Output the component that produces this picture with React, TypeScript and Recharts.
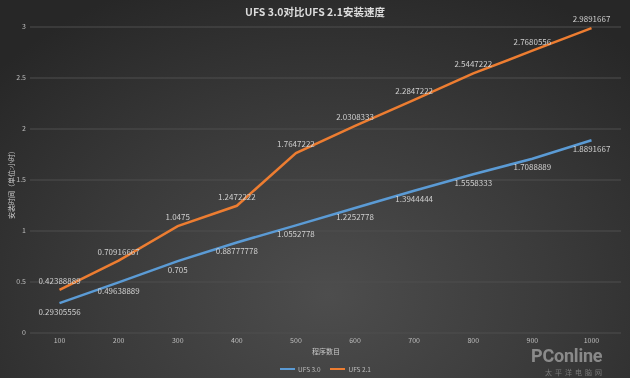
import React from 'react';
import { LineChart, Line, XAxis, YAxis, CartesianGrid, LabelList } from 'recharts';

const categories = ['100', '200', '300', '400', '500', '600', '700', '800', '900', '1000'];
const ufs30 = [0.29305556, 0.49638889, 0.705, 0.88777778, 1.0552778, 1.2252778, 1.3944444, 1.5558333, 1.7088889, 1.8891667];
const ufs21 = [0.42388889, 0.70916667, 1.0475, 1.2472222, 1.7647222, 2.0308333, 2.2847222, 2.5447222, 2.7680556, 2.9891667];
const yTicks = [0, 0.5, 1, 1.5, 2, 2.5, 3];
const seriesNames = ['UFS 3.0', 'UFS 2.1'];
const title = 'UFS 3.0对比UFS 2.1安装速度';
const yTitle = '安装时间（单位:小时）';
const xTitle = '程序数目';

const data = categories.map((c, i) => ({ name: c, a: ufs30[i], b: ufs21[i] }));

const BLUE = '#5B9BD5';
const ORANGE = '#ED7D31';
const FONT = '"Noto Sans CJK SC", "Noto Sans", sans-serif';

export default function App() {
  return (
    <div
      style={{
        position: 'fixed',
        left: 0,
        top: 0,
        width: 630,
        height: 378,
        background: 'radial-gradient(ellipse 70% 90% at 52% 78%, #4d4d4d 0%, #3b3b3b 50%, #272727 100%)',
        fontFamily: FONT,
        overflow: 'hidden',
      }}
    >
      <div
        style={{
          position: 'absolute',
          left: 0,
          top: 4,
          width: 630,
          textAlign: 'center',
          color: '#dcdcdc',
          fontWeight: 'bold',
          fontSize: 10.5,
          fontFamily: FONT,
        }}
      >
        {title}
      </div>
      <div style={{ position: 'absolute', left: 531, top: 349, color: 'rgba(205,205,205,0.55)', fontSize: 18, fontFamily: 'Roboto, sans-serif', fontWeight: 'bold', lineHeight: '13px', letterSpacing: -0.2 }}>
        PConline
      </div>
      <div style={{ position: 'absolute', left: 545, top: 368, color: 'rgba(200,200,200,0.45)', fontSize: 7, lineHeight: '8px', letterSpacing: 3 }}>
        太平洋电脑网
      </div>
      <div style={{ position: 'absolute', left: 0, top: 0 }}>
        <LineChart width={630} height={378} data={data} margin={{ top: 27, right: 9, bottom: 25, left: 0 }}>
          <CartesianGrid vertical={false} stroke="#4e4e4e" strokeWidth={1} />
          <XAxis
            dataKey="name"
            padding={{ left: 29.5, right: 29.5 }}
            axisLine={false}
            tickLine={false}
            tick={{ fill: '#bdbdbd', fontSize: 7, fontFamily: FONT }}
            tickSize={0}
            tickMargin={5}
            height={20}
            interval={0}
          />
          <YAxis
            domain={[0, 3]}
            ticks={yTicks}
            axisLine={false}
            tickLine={false}
            width={30}
            tickSize={0}
            tickMargin={4}
            tick={{ fill: '#bdbdbd', fontSize: 7, fontFamily: FONT }}
          />
          <Line type="linear" dataKey="a" name={seriesNames[0]} stroke={BLUE} strokeWidth={2.5} dot={false} isAnimationActive={false}>
            <LabelList dataKey="a" position="bottom" offset={6} fill="#cfcfcf" fontSize={8} fontFamily={FONT} />
          </Line>
          <Line type="linear" dataKey="b" name={seriesNames[1]} stroke={ORANGE} strokeWidth={2.5} dot={false} isAnimationActive={false}>
            <LabelList dataKey="b" position="top" offset={6} fill="#cfcfcf" fontSize={8} fontFamily={FONT} />
          </Line>
        </LineChart>
      </div>
      <div
        style={{
          position: 'absolute',
          left: 11 - 60,
          top: 183 - 5,
          width: 120,
          textAlign: 'center',
          transform: 'rotate(-90deg)',
          color: '#c8c8c8',
          fontSize: 7,
          lineHeight: '10px',
        }}
      >
        {yTitle}
      </div>
      <div
        style={{
          position: 'absolute',
          left: 276,
          top: 346,
          width: 100,
          textAlign: 'center',
          color: '#c8c8c8',
          fontSize: 7,
          lineHeight: '10px',
        }}
      >
        {xTitle}
      </div>
      <div style={{ position: 'absolute', left: 280, top: 364, display: 'flex', alignItems: 'center', color: '#bdbdbd', fontSize: 6.5, lineHeight: '10px' }}>
        <span style={{ display: 'inline-block', width: 15, height: 2, background: BLUE, marginRight: 3 }} />
        <span style={{ marginRight: 10 }}>{seriesNames[0]}</span>
        <span style={{ display: 'inline-block', width: 15, height: 2, background: ORANGE, marginRight: 3 }} />
        <span>{seriesNames[1]}</span>
      </div>
    </div>
  );
}
